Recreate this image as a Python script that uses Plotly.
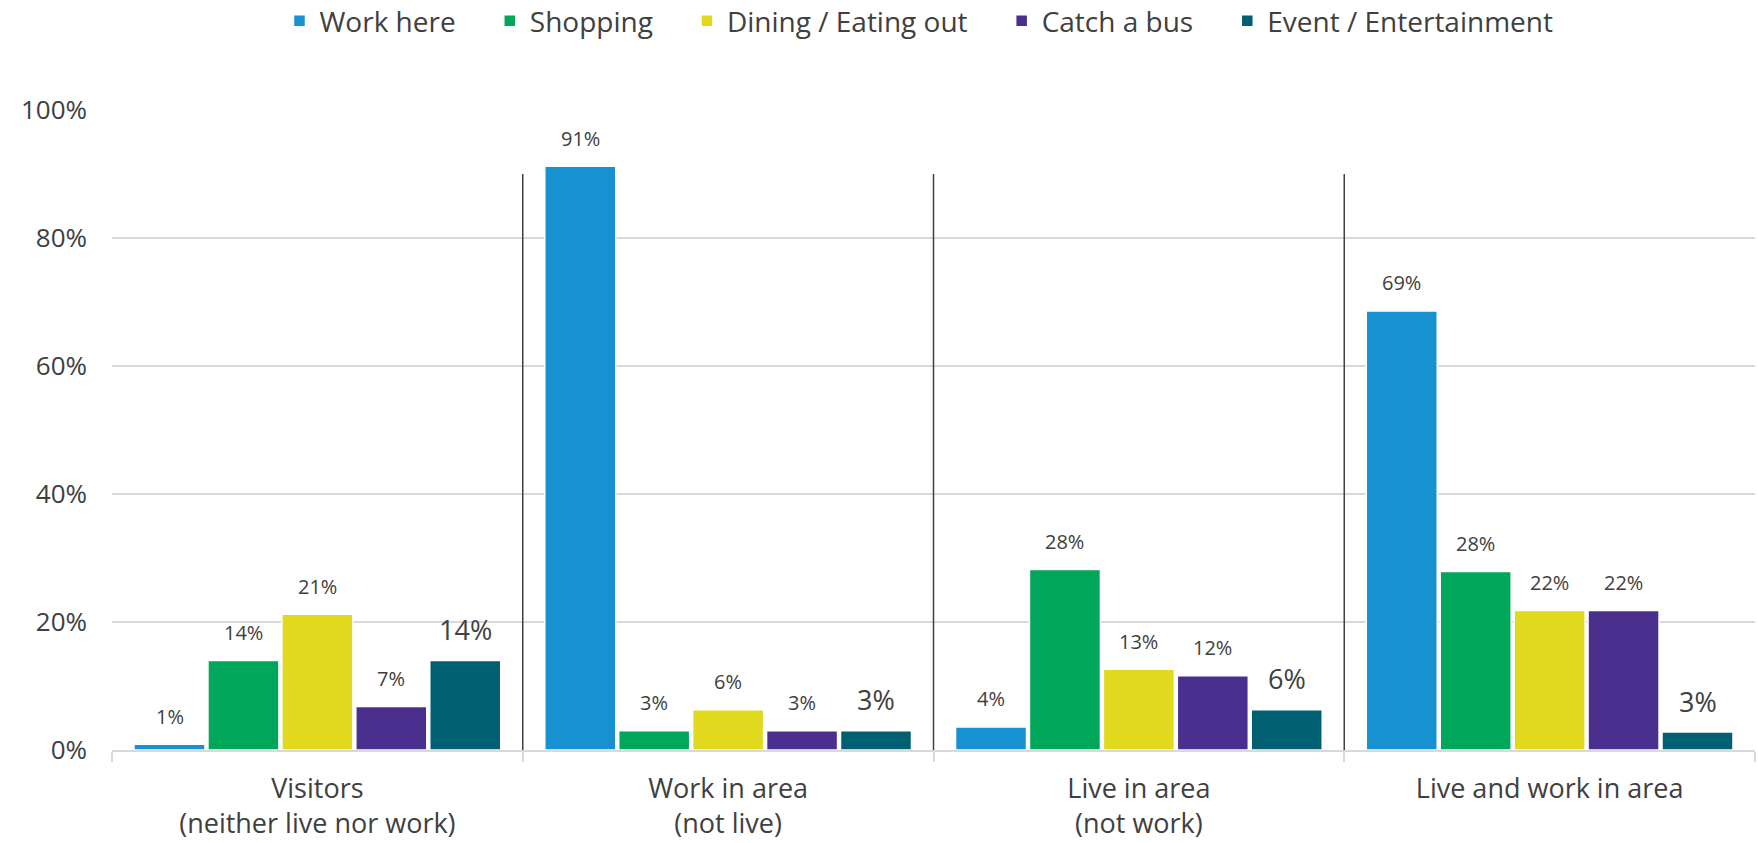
import plotly.graph_objects as go

# categories along the x axis
groups = ["Visitors<br>(neither live nor work)", "Work in area<br>(not live)",
          "Live in area<br>(not work)", "Live and work in area"]

# share of respondents (%) per reason, one list per series
work_here = [0.9, 91.2, 3.6, 68.6]
shopping = [14.0, 3.0, 28.2, 27.9]
dining = [21.2, 6.3, 12.6, 21.8]
catch_bus = [6.8, 3.0, 11.6, 21.8]
event = [14.0, 3.0, 6.3, 2.8]

series_names = ["Work here", "Shopping", "Dining / Eating out", "Catch a bus", "Event / Entertainment"]
series_values = [work_here, shopping, dining, catch_bus, event]
colors = ["#1791D0", "#00A65A", "#E0D91E", "#4A2F8F", "#005F71"]

y_ticks = [0, 20, 40, 60, 80, 100]
y_tick_labels = ["0%", "20%", "40%", "60%", "80%", "100%"]
separator_top = 90

FONT = "Open Sans"
TEXT = "#404040"
GRID = "#D9D9D9"
BARGAP = 0.1
PAD = "\u00a0" * 4  # extra room after each legend entry

fig = go.Figure()

for name, vals, col in zip(series_names, series_values, colors):
    fig.add_trace(go.Bar(
        name=name + PAD,
        x=groups,
        y=vals,
        marker=dict(color=col, line=dict(color="white", width=1.5)),
        hoverinfo="skip",
    ))

# value labels above bars (event labels are drawn larger in the original)
slot = (1 - BARGAP) / len(series_names)
annotations = []
for i, vals in enumerate(series_values):
    big = i == len(series_values) - 1
    for j, v in enumerate(vals):
        annotations.append(dict(
            x=j + (i - 2) * slot, y=v, xref="x", yref="y",
            text=f"{v:.0f}%", showarrow=False,
            yanchor="middle", yshift=31 if big else 28,
            font=dict(family=FONT, size=27 if big else 20, color=TEXT),
        ))

# vertical separators between the groups
shapes = []
for k in range(len(groups) - 1):
    shapes.append(dict(
        type="line", xref="x", yref="y",
        x0=k + 0.5, x1=k + 0.5, y0=0, y1=separator_top,
        line=dict(color="#404040", width=1.5),
    ))

fig.update_layout(
    width=1758, height=843,
    margin=dict(l=112, r=3, t=110, b=93),
    paper_bgcolor="white", plot_bgcolor="white",
    barmode="group", bargap=BARGAP, bargroupgap=0.04,
    font=dict(family=FONT, color=TEXT),
    legend=dict(
        orientation="h", x=0.531, xanchor="center", xref="container",
        y=0.975, yanchor="middle", yref="container",
        font=dict(family=FONT, size=28, color=TEXT),
        itemwidth=30, traceorder="normal",
    ),
    annotations=annotations,
    shapes=shapes,
)

fig.update_xaxes(
    automargin=False,
    showline=True, linecolor=GRID, linewidth=1.5,
    ticks="outside", tickson="boundaries", ticklen=10, tickcolor=GRID, tickwidth=1.5,
    tickfont=dict(family=FONT, size=27, color=TEXT),
    ticklabelstandoff=14,
    showgrid=False,
)
fig.update_yaxes(
    automargin=False,
    range=[0, 100], tickvals=y_ticks, ticktext=y_tick_labels,
    showgrid=True, gridcolor=GRID, gridwidth=1.5,
    zeroline=False, showline=False,
    tickfont=dict(family=FONT, size=26, color=TEXT),
    ticklabelstandoff=24,
)

# drop the default page margin so the figure fills the window exactly
fig.write_html(
    "out.html",
    config={"displayModeBar": False},
    post_script="document.body.style.margin='0';document.body.style.overflow='hidden';",
)
